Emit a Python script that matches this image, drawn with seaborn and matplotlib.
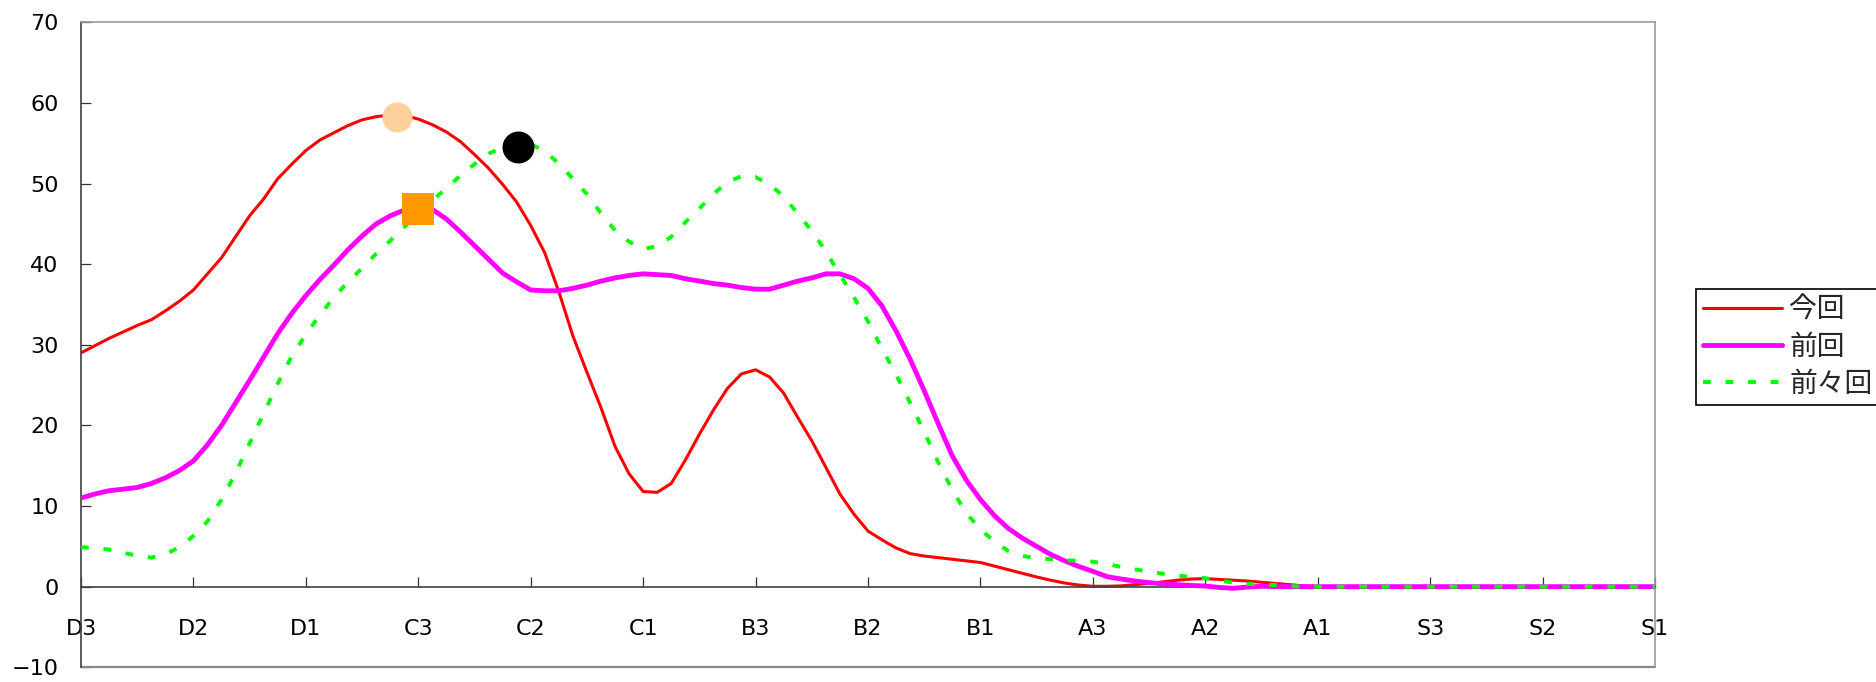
import numpy as np
import pandas as pd
import matplotlib
matplotlib.use('Agg')
import matplotlib.pyplot as plt
import seaborn as sns

# grade categories along the x axis
grades = ['D3', 'D2', 'D1', 'C3', 'C2', 'C1', 'B3', 'B2', 'B1',
          'A3', 'A2', 'A1', 'S3', 'S2', 'S1']

# curves are sampled every eighth of a category (0 = D3 ... 14 = S1)
x_pos = np.arange(0, 14.001, 0.125)

konkai = [29.0, 29.9, 30.8, 31.6, 32.4, 33.1, 34.2, 35.4,
          36.8, 38.8, 40.8, 43.4, 46.0, 48.1, 50.6, 52.4,
          54.1, 55.4, 56.3, 57.2, 57.9, 58.3, 58.5, 58.45,
          58.0, 57.3, 56.4, 55.2, 53.6, 51.9, 49.9, 47.7,
          44.8, 41.4, 36.6, 31.1, 26.6, 22.2, 17.4, 14.0,
          11.8, 11.7, 12.8, 15.7, 18.9, 21.9, 24.6, 26.4,
          26.9, 26.0, 24.0, 21.0, 18.1, 14.8, 11.5, 9.0,
          6.9, 5.8, 4.8, 4.1, 3.8, 3.6, 3.4, 3.2,
          3.0, 2.55, 2.1, 1.65, 1.2, 0.8, 0.45, 0.2,
          0.05, 0.05, 0.1, 0.25, 0.4, 0.6, 0.8, 0.95,
          1.0, 0.9, 0.8, 0.7, 0.55, 0.4, 0.25, 0.1,
          0, 0, 0, 0, 0, 0, 0, 0,
          0, 0, 0, 0, 0, 0, 0, 0,
          0, 0, 0, 0, 0, 0, 0, 0,
          0]

zenkai = [11.0, 11.5, 11.9, 12.1, 12.3, 12.8, 13.5, 14.4,
          15.6, 17.6, 20.0, 22.8, 25.6, 28.5, 31.4, 33.9,
          36.1, 38.1, 39.9, 41.8, 43.5, 45.0, 46.0, 46.7,
          47.0, 46.8, 45.6, 44.0, 42.3, 40.6, 38.9, 37.8,
          36.8, 36.7, 36.7, 37.0, 37.4, 37.9, 38.3, 38.6,
          38.8, 38.7, 38.6, 38.2, 37.9, 37.6, 37.4, 37.1,
          36.9, 36.9, 37.4, 37.9, 38.3, 38.8, 38.8, 38.2,
          37.0, 34.8, 31.7, 28.2, 24.3, 20.2, 16.2, 13.2,
          10.8, 8.8, 7.2, 6.0, 5.0, 4.0, 3.2, 2.5,
          1.9, 1.25, 0.95, 0.7, 0.5, 0.35, 0.25, 0.15,
          0.08, -0.1, -0.2, -0.05, 0.05, 0.02, 0, 0,
          0, 0, 0, 0, 0, 0, 0, 0,
          0, 0, 0, 0, 0, 0, 0, 0,
          0, 0, 0, 0, 0, 0, 0, 0,
          0]

zenzenkai = [4.9, 4.8, 4.6, 4.2, 3.85, 3.6, 4.0, 4.9,
             6.3, 8.1, 10.8, 14.1, 17.8, 21.5, 25.2, 28.6,
             31.3, 33.7, 35.9, 37.8, 39.5, 41.3, 42.9, 44.6,
             46.3, 47.9, 49.4, 51.0, 52.4, 53.7, 54.5, 54.8,
             54.9, 54.0, 52.5, 50.6, 48.7, 46.3, 44.2, 42.8,
             41.9, 42.2, 43.4, 45.2, 46.9, 48.7, 50.2, 50.9,
             50.8, 49.9, 48.4, 46.3, 44.1, 41.6, 38.7, 35.9,
             32.9, 29.5, 26.3, 22.8, 19.2, 15.4, 12.0, 9.1,
             7.1, 5.6, 4.4, 3.8, 3.55, 3.4, 3.3, 3.2,
             3.1, 2.8, 2.45, 2.15, 1.85, 1.6, 1.4, 1.2,
             1.05, 0.75, 0.5, 0.35, 0.25, 0.2, 0.08, 0,
             0, 0, 0, 0, 0, 0, 0, 0,
             0, 0, 0, 0, 0, 0, 0, 0,
             0, 0, 0, 0, 0, 0, 0, 0,
             0]

# highlighted points
peak_now_x, peak_now_y = [2.81], [58.3]
peak_prev_x, peak_prev_y = [3.0], [46.9]
peak_prev2_x, peak_prev2_y = [3.89], [54.5]

df = pd.DataFrame({'pos': x_pos, '今回': konkai, '前回': zenkai, '前々回': zenzenkai})

sns.set_style('white')
plt.rcParams['font.family'] = ['DejaVu Sans', 'Noto Sans CJK JP']

fig = plt.figure(figsize=(18.76, 6.82), dpi=100)
ax = fig.add_axes([81 / 1876, 1 - 667.3 / 682, (1655 - 81) / 1876, (667.3 - 22.3) / 682])

sns.lineplot(data=df, x='pos', y='今回', ax=ax, color='#FF0000', linewidth=2.2,
             label='今回', zorder=2)
sns.lineplot(data=df, x='pos', y='前回', ax=ax, color='#FF00FF', linewidth=3.5,
             label='前回', zorder=3)
sns.lineplot(data=df, x='pos', y='前々回', ax=ax, color='#00FF00', linewidth=2.8,
             linestyle=(0, (2.0, 3.8)), label='前々回', zorder=4)

sns.scatterplot(x=peak_now_x, y=peak_now_y, ax=ax, color='#FFD09C', s=470,
                marker='o', linewidth=0, zorder=5, legend=False)
sns.scatterplot(x=peak_prev_x, y=peak_prev_y, ax=ax, color='#FF9900', s=500,
                marker='s', linewidth=0, zorder=5, legend=False)
sns.scatterplot(x=peak_prev2_x, y=peak_prev2_y, ax=ax, color='black', s=530,
                marker='o', linewidth=0, zorder=5, legend=False)

ax.set_xlim(0, 14)
ax.set_ylim(-10, 70)
ax.set_xticks(range(len(grades)))
ax.set_xticklabels(grades)
ax.set_yticks(range(-10, 71, 10))
ax.set_xlabel('')
ax.set_ylabel('')

# x axis crosses at zero, plot area border stays at -10
ax.spines['bottom'].set_position(('data', 0))
for side in ['left', 'bottom']:
    ax.spines[side].set_color('#404040')
    ax.spines[side].set_linewidth(1.2)
for side in ['top', 'right']:
    ax.spines[side].set_color('#999999')
    ax.spines[side].set_linewidth(1.2)
ax.axhline(-10, color='#888888', linewidth=1.6, clip_on=False, zorder=1)

ax.tick_params(axis='both', direction='in', length=7.2, width=0.9, color='#333333',
               labelsize=16, labelcolor='black', bottom=True, left=True)
ax.tick_params(axis='y', pad=16)
ax.tick_params(axis='x', pad=23)

leg = ax.legend(loc='upper left', bbox_to_anchor=(1696 / 1876, 1 - 289 / 682),
                bbox_transform=fig.transFigure, frameon=True, fancybox=False,
                edgecolor='black', framealpha=1, fontsize=20, handlelength=2.85,
                handletextpad=0.25, borderpad=0.25, labelspacing=0.32, borderaxespad=0)
leg.get_frame().set_linewidth(1.2)

fig.savefig('out.png', dpi=100)
